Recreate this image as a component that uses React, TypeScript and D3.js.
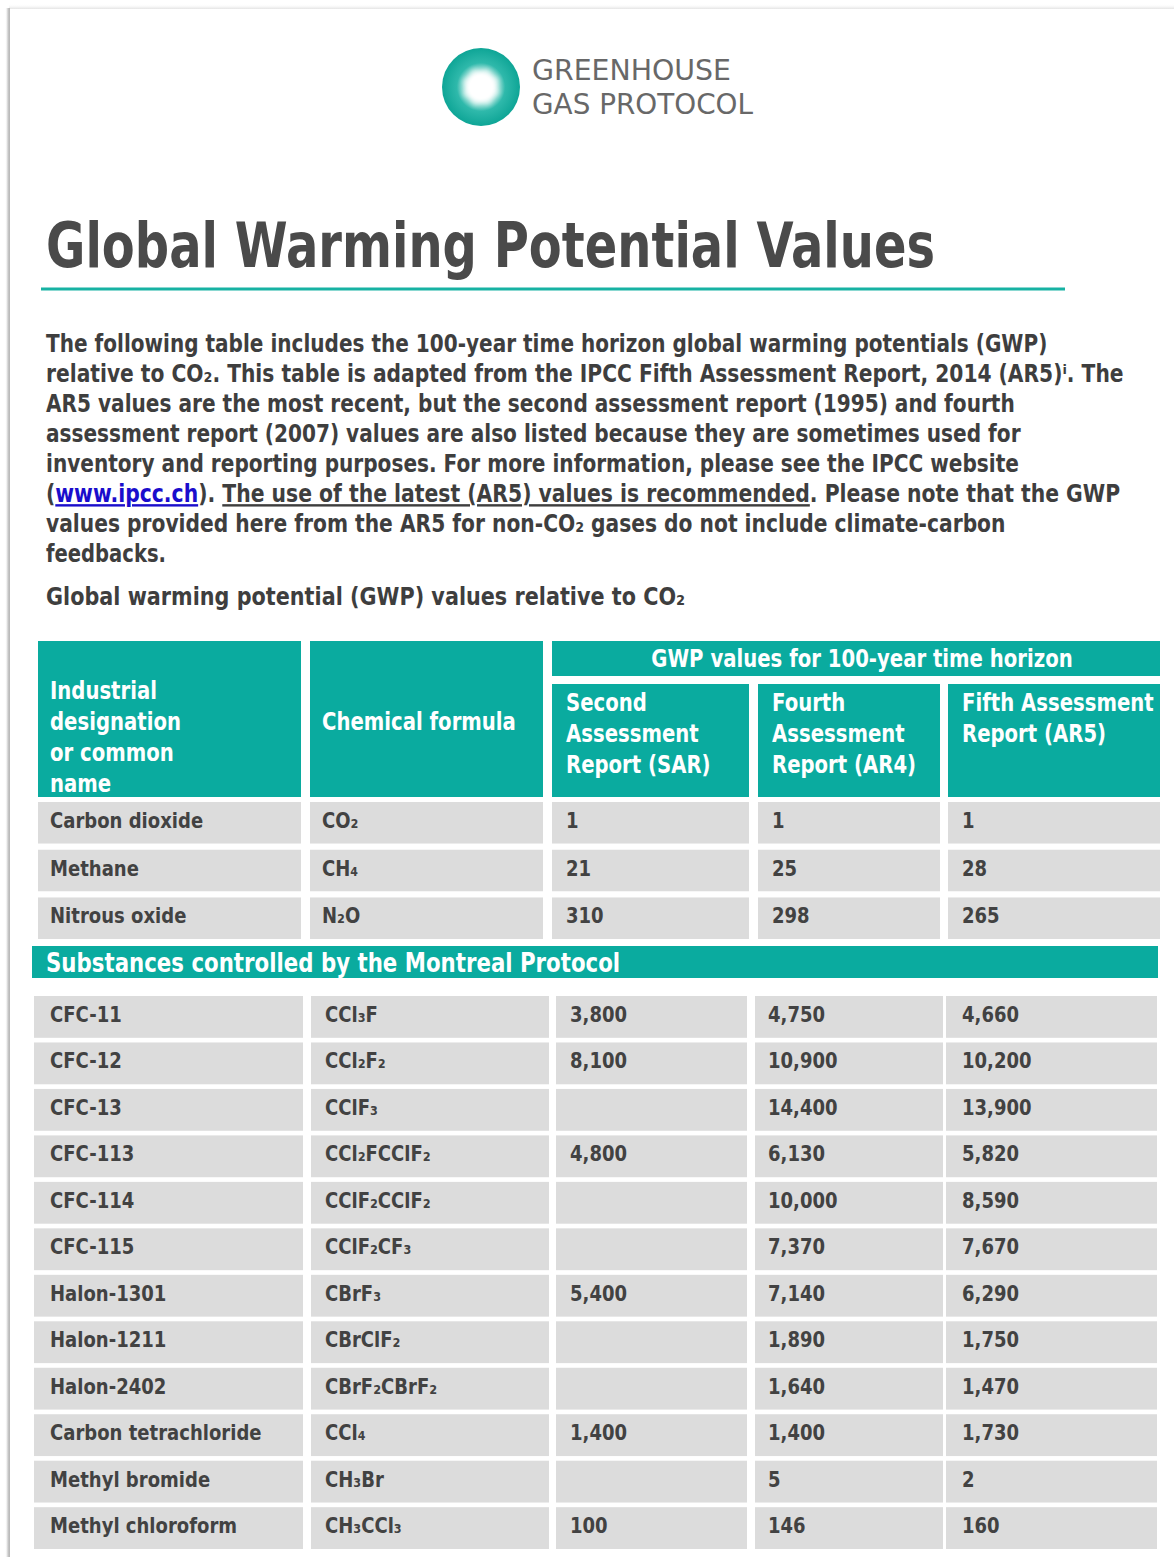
import React, { useLayoutEffect, useRef, useState } from "react";
import * as d3 from "d3";

// ---------- DATA ----------
const logoLines = ["GREENHOUSE", "GAS PROTOCOL"];
const titleText = "Global Warming Potential Values";
const captionText = "Global warming potential (GWP) values relative to CO₂";

// paragraph: each line is a list of [text, kind] segments
const introLines: [string, string][][] = [
  [["The following table includes the 100-year time horizon global warming potentials (GWP)", "n"]],
  [["relative to CO₂. This table is adapted from the IPCC Fifth Assessment Report, 2014 (AR5)ⁱ. The", "n"]],
  [["AR5 values are the most recent, but the second assessment report (1995) and fourth", "n"]],
  [["assessment report (2007) values are also listed because they are sometimes used for", "n"]],
  [["inventory and reporting purposes. For more information, please see the IPCC website", "n"]],
  [["(", "n"], ["www.ipcc.ch", "link"], ("). ".length ? ["). ", "n"] : ["", "n"]), ["The use of the latest (AR5) values is recommended", "u"], [". Please note that the GWP", "n"]],
  [["values provided here from the AR5 for non-CO₂ gases do not include climate-carbon", "n"]],
  [["feedbacks.", "n"]],
];

const headerName = ["Industrial", "designation", "or common", "name"];
const headerFormula = "Chemical formula";
const groupHeader = "GWP values for 100-year time horizon";
const reportHeaders = [
  ["Second", "Assessment", "Report (SAR)"],
  ["Fourth", "Assessment", "Report (AR4)"],
  ["Fifth Assessment", "Report (AR5)"],
];
const sectionLabel = "Substances controlled by the Montreal Protocol";

const mainNames = ["Carbon dioxide", "Methane", "Nitrous oxide"];
const mainFormulas = ["CO₂", "CH₄", "N₂O"];
const mainSAR = [1, 21, 310];
const mainAR4 = [1, 25, 298];
const mainAR5 = [1, 28, 265];

const montrealNames = [
  "CFC-11", "CFC-12", "CFC-13", "CFC-113", "CFC-114", "CFC-115",
  "Halon-1301", "Halon-1211", "Halon-2402", "Carbon tetrachloride",
  "Methyl bromide", "Methyl chloroform",
];
const montrealFormulas = [
  "CCl₃F", "CCl₂F₂", "CClF₃", "CCl₂FCClF₂", "CClF₂CClF₂", "CClF₂CF₃",
  "CBrF₃", "CBrClF₂", "CBrF₂CBrF₂", "CCl₄", "CH₃Br", "CH₃CCl₃",
];
const montrealSAR = [3800, 8100, null, 4800, null, null, 5400, null, null, 1400, null, 100];
const montrealAR4 = [4750, 10900, 14400, 6130, 10000, 7370, 7140, 1890, 1640, 1400, 5, 146];
const montrealAR5 = [4660, 10200, 13900, 5820, 8590, 7670, 6290, 1750, 1470, 1730, 2, 160];

// ---------- STYLE / LAYOUT ----------
const W = 1174;
const H = 1557;
const FONT = "'DejaVu Sans', Verdana, sans-serif";
const SX = 0.82;
const TEAL = "#0aab9f";
const GRAY = "#dcdcdc";
const TXT = "#424242";

const colsTop: [number, number][] = [[38, 301], [310, 543], [552, 749], [758, 940], [948, 1160]];
const colsBottom: [number, number][] = [[34, 303], [311, 549], [556, 747], [755, 943], [946, 1157]];
const padTop = [12, 12, 14, 14, 14];
const padBottom = [16, 14, 14, 13, 16];

const fmt = d3.format(",");

function T(props: {
  x: number; y: number; size: number; fill?: string; weight?: string | number;
  anchor?: string; sx?: number; children: React.ReactNode;
}) {
  const { x, y, size, fill = TXT, weight = "bold", anchor = "start", sx = SX, children } = props;
  return (
    <text
      transform={`translate(${x},${y}) scale(${sx},1)`}
      fontFamily={FONT}
      fontSize={size}
      fontWeight={weight}
      fill={fill}
      textAnchor={anchor}
    >
      {children}
    </text>
  );
}

// text horizontally scaled so that it spans exactly `width` pixels
function FitText(props: {
  x: number; y: number; width: number; size: number; fill?: string;
  weight?: string | number; children: React.ReactNode;
}) {
  const { x, y, width, size, fill = TXT, weight = "bold", children } = props;
  const ref = useRef<SVGTextElement>(null);
  const [s, setS] = useState(SX);
  useLayoutEffect(() => {
    const el = ref.current;
    if (!el) return;
    const len = el.getComputedTextLength();
    if (len > 0) setS(width / len);
  }, [width]);
  return (
    <text
      ref={ref}
      transform={`translate(${x},${y}) scale(${s},1)`}
      fontFamily={FONT}
      fontSize={size}
      fontWeight={weight}
      fill={fill}
    >
      {children}
    </text>
  );
}

function Row(props: {
  y: number; h: number; cols: [number, number][]; pads: number[]; cells: string[];
}) {
  const { y, h, cols, pads, cells } = props;
  return (
    <g>
      {cols.map((c, i) => (
        <g key={i}>
          <rect x={c[0]} y={y} width={c[1] - c[0]} height={h} fill={GRAY} />
          {cells[i] ? (
            <T x={c[0] + pads[i]} y={y + 26} size={22}>{cells[i]}</T>
          ) : null}
        </g>
      ))}
    </g>
  );
}

export default function App() {
  const yMain = d3.scaleBand<string>().domain(mainNames).range([802, 939]).paddingInner(0.13);
  const yMont = d3.scaleBand<string>().domain(montrealNames).range([996, 1549]).paddingInner(0.1);
  const v = (n: number | null) => (n == null ? "" : fmt(n));

  const introWidths = [1001, 1078, 969, 975, 973, 1074, 960, 120];
  const lineY = d3.scaleLinear().domain([0, 1]).range([352, 382]);

  return (
    <svg
      width={W}
      height={H}
      viewBox={`0 0 ${W} ${H}`}
      style={{ position: "absolute", left: 0, top: 0, display: "block", background: "#fff" }}
    >
      <defs>
        <radialGradient id="logoGrad" cx="0.5" cy="0.5" r="0.5">
          <stop offset="0" stopColor="#ffffff" />
          <stop offset="0.28" stopColor="#ffffff" />
          <stop offset="0.45" stopColor="#9fe0d8" />
          <stop offset="0.62" stopColor="#2fb9ab" />
          <stop offset="1" stopColor="#0ea596" />
        </radialGradient>
        <filter id="soft" x="-50%" y="-50%" width="200%" height="200%">
          <feGaussianBlur stdDeviation="2.5" />
        </filter>
        <linearGradient id="leftShadow" x1="0" x2="1" y1="0" y2="0">
          <stop offset="0" stopColor="#ffffff" stopOpacity="0" />
          <stop offset="0.6" stopColor="#c9c9c9" />
          <stop offset="1" stopColor="#b5b5b5" />
        </linearGradient>
        <linearGradient id="topShadow" x1="0" x2="0" y1="0" y2="1">
          <stop offset="0" stopColor="#ffffff" stopOpacity="0" />
          <stop offset="1" stopColor="#e3e3e3" />
        </linearGradient>
      </defs>

      <rect x={0} y={0} width={W} height={H} fill="#ffffff" />
      {/* page edge shadows */}
      <rect x={9} y={4} width={W - 9} height={5} fill="url(#topShadow)" />
      <rect x={5} y={8} width={5} height={H - 8} fill="url(#leftShadow)" />

      {/* logo */}
      <g>
        <circle cx={481} cy={87} r={39} fill="url(#logoGrad)" />
        <g filter="url(#soft)" opacity={0.55}>
          <rect x={467} y={73} width={28} height={28} fill="#ffffff" transform="rotate(20 481 87)" />
          <rect x={467} y={73} width={28} height={28} fill="#ffffff" transform="rotate(65 481 87)" />
        </g>
        <circle cx={481} cy={87} r={13} fill="#ffffff" filter="url(#soft)" />
        {logoLines.map((s, i) => (
          <FitText key={s} x={532} y={80 + i * 34} width={i === 0 ? 199 : 221} size={29} weight="normal" fill="#686868">
            {s}
          </FitText>
        ))}
      </g>

      {/* title */}
      <FitText x={46} y={267} width={889} size={62} fill="#4a4a4a">{titleText}</FitText>
      <line x1={41} x2={1065} y1={289} y2={289} stroke="#17b2a3" strokeWidth={3} />

      {/* intro paragraph */}
      {introLines.map((segs, i) => (
        <FitText key={i} x={46} y={lineY(i)} width={introWidths[i]} size={24} fill="#3e3e3e">
          {segs.map(([t, k], j) => (
            <tspan
              key={j}
              fill={k === "link" ? "#1a0dcc" : undefined}
              textDecoration={k === "link" || k === "u" ? "underline" : undefined}
            >
              {t}
            </tspan>
          ))}
        </FitText>
      ))}

      <FitText x={46} y={605} width={639} size={24} fill="#3e3e3e">{captionText}</FitText>

      {/* table header */}
      <g>
        <rect x={colsTop[0][0]} y={641} width={colsTop[0][1] - colsTop[0][0]} height={156} fill={TEAL} />
        <rect x={colsTop[1][0]} y={641} width={colsTop[1][1] - colsTop[1][0]} height={156} fill={TEAL} />
        <rect x={colsTop[2][0]} y={641} width={colsTop[4][1] - colsTop[2][0]} height={35} fill={TEAL} />
        {[2, 3, 4].map((c) => (
          <rect key={c} x={colsTop[c][0]} y={684} width={colsTop[c][1] - colsTop[c][0]} height={113} fill={TEAL} />
        ))}
        {headerName.map((s, i) => (
          <T key={s} x={50} y={699 + i * 31} size={24} fill="#ffffff">{s}</T>
        ))}
        <T x={322} y={730} size={24} fill="#ffffff">{headerFormula}</T>
        <T x={(colsTop[2][0] + colsTop[4][1]) / 2 + 6} y={667} size={24} fill="#ffffff" anchor="middle">
          {groupHeader}
        </T>
        {reportHeaders.map((lines, c) =>
          lines.map((s, i) => (
            <T key={c + "-" + i} x={colsTop[c + 2][0] + padTop[c + 2]} y={711 + i * 31} size={24} fill="#ffffff">
              {s}
            </T>
          ))
        )}
      </g>

      {/* main gases */}
      {mainNames.map((n, i) => (
        <Row
          key={n}
          y={yMain(n)!}
          h={yMain.bandwidth()}
          cols={colsTop}
          pads={padTop}
          cells={[n, mainFormulas[i], v(mainSAR[i]), v(mainAR4[i]), v(mainAR5[i])]}
        />
      ))}

      {/* Montreal section band */}
      <rect x={32} y={946} width={1126} height={32} fill={TEAL} />
      <T x={46} y={972} size={26} fill="#ffffff">{sectionLabel}</T>

      {montrealNames.map((n, i) => (
        <Row
          key={n}
          y={yMont(n)!}
          h={yMont.bandwidth()}
          cols={colsBottom}
          pads={padBottom}
          cells={[n, montrealFormulas[i], v(montrealSAR[i]), v(montrealAR4[i]), v(montrealAR5[i])]}
        />
      ))}
    </svg>
  );
}
